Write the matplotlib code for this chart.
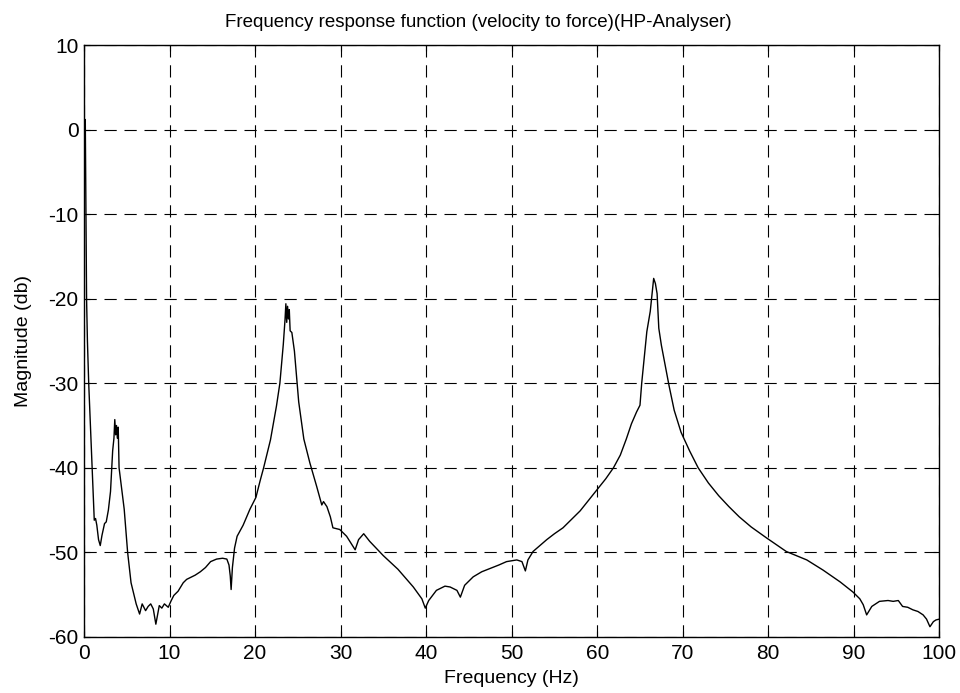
import matplotlib
matplotlib.use("Agg")
import matplotlib.pyplot as plt

# Frequency (Hz) and magnitude (dB)
freq = [0.10, 0.15, 0.20, 0.25, 0.30, 0.40, 0.55, 0.75, 0.95, 1.10, 1.20, 1.35, 1.50, 1.70, 1.90,
        2.10, 2.40, 2.60, 2.85, 3.10, 3.35, 3.50, 3.60, 3.70, 3.80, 3.90, 4.00, 4.10, 4.40,
        4.70, 5.10, 5.50, 6.10, 6.50, 6.80, 7.20, 7.50, 7.80, 8.10, 8.40, 8.80, 9.10, 9.40,
        9.85, 10.2, 10.5, 11.0, 11.6, 12.0, 13.0, 13.6, 14.2, 14.8, 15.5, 16.2, 16.7, 16.95,
        17.1, 17.2, 17.35, 17.6, 17.9, 18.6, 19.4, 20.1, 20.6, 21.0, 21.8, 22.5, 22.9, 23.3,
        23.5, 23.6, 23.7, 23.8, 23.9, 24.0, 24.1, 24.3, 24.6, 25.1, 25.7, 26.4, 27.2, 27.8,
        28.0, 28.4, 28.8, 29.1, 29.9, 30.7, 31.7, 32.1, 32.7, 33.4, 35.0, 36.7, 38.5, 39.5,
        39.9, 40.3, 41.2, 42.2, 42.8, 43.6, 44.0, 44.5, 45.5, 46.5, 47.5, 48.5, 49.4, 50.6,
        51.2, 51.6, 51.9, 52.5, 53.3, 54.1, 55.0, 56.0, 57.0, 58.0, 59.9, 61.0, 61.9, 62.7,
        63.4, 64.0, 64.6, 65.0, 65.2, 65.5, 65.8, 66.2, 66.4, 66.6, 66.8, 67.0, 67.2, 67.5,
        67.8, 68.4, 69.0, 69.8, 70.8, 71.8, 73.0, 74.2, 75.4, 76.6, 78.0, 79.8, 82.1, 84.5,
        86.4, 88.4, 89.9, 90.7, 91.1, 91.5, 92.1, 93.0, 94.0, 94.6, 95.2, 95.7, 96.3, 96.9,
        97.5, 98.1, 98.5, 98.9, 99.3, 99.6, 100.0]
mag_db = [-2.0, 1.2, -6.0, -13.0, -20.0, -25.0, -30.0, -35.0, -40.0, -44.0, -46.2, -46.0, -46.8, -48.5, -49.2,
          -48.0, -46.6, -46.4, -45.0, -42.8, -38.0, -36.5, -34.3, -36.1, -35.0, -36.5, -35.2, -40.0, -42.5,
          -44.9, -50.0, -53.6, -56.1, -57.3, -56.1, -56.9, -56.4, -56.1, -56.7, -58.5, -56.3, -56.6, -56.1,
          -56.5, -55.7, -55.1, -54.6, -53.6, -53.2, -52.7, -52.3, -51.8, -51.1, -50.8, -50.7, -50.8, -51.5,
          -52.8, -54.4, -51.8, -49.5, -48.1, -46.8, -44.9, -43.5, -41.5, -40.0, -36.7, -32.7, -30.0, -25.4,
          -22.5, -20.6, -22.8, -20.9, -22.4, -21.3, -23.8, -24.0, -26.2, -32.2, -36.6, -39.4, -42.2, -44.4,
          -44.0, -44.6, -45.8, -47.1, -47.3, -48.1, -49.7, -48.5, -47.8, -48.7, -50.4, -52.0, -54.1, -55.5,
          -56.6, -55.7, -54.5, -54.0, -54.1, -54.5, -55.3, -53.9, -52.9, -52.3, -51.9, -51.5, -51.1, -50.9,
          -51.1, -52.2, -50.9, -49.9, -49.2, -48.5, -47.8, -47.1, -46.1, -45.1, -42.7, -41.3, -40.0, -38.5,
          -36.6, -34.8, -33.4, -32.6, -30.0, -27.0, -23.9, -21.5, -19.5, -17.6, -18.2, -19.4, -23.5, -25.5,
          -27.1, -30.3, -33.2, -35.8, -38.0, -40.0, -41.8, -43.3, -44.6, -45.8, -47.0, -48.3, -49.9, -50.9,
          -52.1, -53.5, -54.7, -55.5, -56.2, -57.4, -56.4, -55.8, -55.7, -55.8, -55.7, -56.4, -56.5, -56.8,
          -57.0, -57.4, -57.9, -58.8, -58.2, -58.0, -57.9]

x_ticks = [0, 10, 20, 30, 40, 50, 60, 70, 80, 90, 100]
y_ticks = [10, 0, -10, -20, -30, -40, -50, -60]

plt.rcParams['font.family'] = ['Liberation Sans', 'DejaVu Sans']
plt.rcParams['axes.unicode_minus'] = False

fig = plt.figure(figsize=(9.6, 6.93), dpi=100)
ax = fig.add_axes([0.0875, 0.081, 0.891, 0.854])

ax.plot(freq, mag_db, color='black', linewidth=1.0)

ax.set_xlim(0, 100)
ax.set_ylim(-60, 10)
ax.set_xticks(x_ticks)
ax.set_yticks(y_ticks)
ax.tick_params(direction='in', length=4, width=0.8, labelsize=15, top=True, right=True,
               colors='black')
ax.tick_params(axis='x', pad=5)
ax.tick_params(axis='y', pad=4)
ax.grid(True, color='black', linestyle=(0, (11, 7)), linewidth=0.8)
for s in ax.spines.values():
    s.set_linewidth(1.0)
    s.set_color('black')

fig.text(0.498, 0.968, 'Frequency response function (velocity to force)(HP-Analyser)',
         fontsize=13.5, ha='center', va='center')
ax.set_xlabel('Frequency (Hz)', fontsize=14, labelpad=5)
ax.set_ylabel('Magnitude (db)', fontsize=14, labelpad=12)

fig.savefig('out.png', dpi=100)
